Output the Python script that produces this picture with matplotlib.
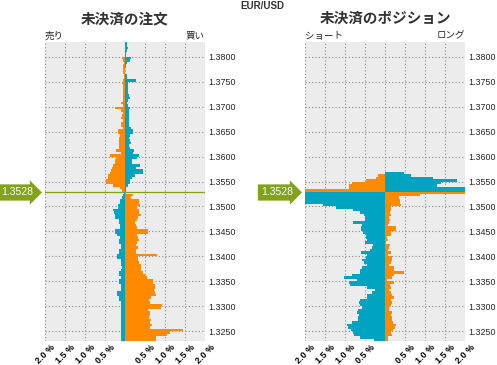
import numpy as np
import matplotlib
matplotlib.use('Agg')
import matplotlib.pyplot as plt
from matplotlib.transforms import blended_transform_factory, ScaledTranslation

plt.rcParams['font.family'] = ['Noto Sans CJK JP', 'DejaVu Sans']

# ---------------- data ----------------
pair = "EUR/USD"
current_price = 1.3528
bin_size = 0.0005
top_price = 1.3830
n_bins = 120

price_ticks = [1.3250, 1.3300, 1.3350, 1.3400, 1.3450, 1.3500, 1.3550,
               1.3600, 1.3650, 1.3700, 1.3750, 1.3800]
pct_ticks = [-2.0, -1.5, -1.0, -0.5, 0.0, 0.5, 1.0, 1.5, 2.0]
pct_labels = ["2.0 %", "1.5 %", "1.0 %", "0.5 %", "", "0.5 %", "1.0 %", "1.5 %", "2.0 %"]

# rows from top (1.3830) downward, each 0.0005 wide; values in %
orders_left = [
    0, 0, 0, 0, 0, 0, .07, .04, .02, .04,
    .05, .05, .05, .02, .03, .04, .07, .05, .06, .05,
    .05, .04, .05, .06, .09, .04, .24, .09, .06, .08,
    .10, .05, .09, .10, .04, .17, .17, .13, .14, .15,
    .15, .15, .15, .22, .09, .37, .23, .25, .25, .29,
    .32, .35, .37, .42, .42, .47, .47, .29, .12, .08,
    .03, .06, .08, .12, .12, .17, .17, .29, .27, .25,
    .24, .16, .14, .13, .13, .24, .24, .19, .13, .14,
    .14, .11, .11, .14, .14, .19, .19, .09, .09, .09,
    .08, .09, .16, .14, .09, .14, .14, .09, .09, .09,
    .19, .19, .14, .14, .11, .10, .09, .09, .09, .09,
    .09, .09, .10, .10, .11, .11, .10, .10, .11, .11]
orders_right = [
    .04, .04, .08, .06, .03, .03, .16, .12, .05, .02,
    .01, .01, .01, .04, .06, .28, .08, .07, .07, .08,
    .07, .09, .13, .08, .06, .07, .13, .09, .10, .10,
    .09, .09, .10, .11, .16, .19, .19, .12, .11, .12,
    .14, .11, .12, .23, .20, .35, .30, .18, .18, .38,
    .28, .46, .46, .25, .17, .12, .12, .08, .02, .02,
    .03, .19, .16, .36, .36, .38, .30, .36, .36, .41,
    .33, .30, .25, .28, .30, .58, .58, .31, .33, .34,
    .30, .28, .32, .27, .27, .81, .33, .33, .36, .39,
    .41, .41, .44, .51, .56, .71, .71, .74, .76, .73,
    .76, .77, .66, .60, .62, .92, .90, .58, .62, .62,
    .61, .64, .62, .68, .62, 1.46, 1.12, 1.06, .77, .77]
positions_left = [0] * 53 + [
    .18, .22, .48, .83, .90, .90, 2.0,
    2.0, 2.0, 2.0, 2.0, 2.0, 1.55, 1.23, .79, .63, .53,
    .51, .49, .80, .57, .60, .60, .55, .48, .47, .44,
    .51, .30, .32, .37, .60, .44, .48, .57, .52, .44,
    .58, .62, .63, .82, 1.02, .69, .90, .88, .44, .25,
    .32, .44, .44, .63, .65, .63, .57, .67, .71, .65,
    .67, .67, .82, .96, .92, .86, .80, .78, .63, .27]
positions_right = [0] * 52 + [
    .48, .64, 1.2, 1.79, 1.39, 1.29, 2.0, 2.0,
    2.0, .87, .35, .37, .37, .39, .14, .14, .12, .14,
    .09, .12, .09, .07, .28, .28, .14, .14, .06, .07,
    .02, .12, .10, .07, .14, .08, .18, .18, .15, .10,
    .22, .23, .47, .23, .18, .06, .23, .12, .14, .09,
    .14, .17, .22, .15, .18, .14, .10, .10, .18, .14,
    .17, .17, .21, .28, .25, .20, .14, .17, .08, .08]

# ---------------- style ----------------
ORANGE = '#ff8a00'
TEAL = '#00a3c0'
GREEN = '#80a31b'
BG = '#ececec'

W, H = 497, 365
fig = plt.figure(figsize=(W / 100, H / 100), dpi=100)
fig.patch.set_facecolor('white')

bin_bottom = top_price - bin_size * (np.arange(n_bins) + 1)
above = (bin_bottom + bin_size / 2) > current_price


def panel(x0, left_vals, right_vals):
    ax = fig.add_axes([x0 / W, 1 - 341 / H, 160 / W, 299 / H])
    ax.set_facecolor(BG)
    lc = np.where(above, ORANGE, TEAL)
    rc = np.where(above, TEAL, ORANGE)
    ax.barh(bin_bottom, -np.array(left_vals), height=bin_size, align='edge',
            color=lc, linewidth=0, zorder=2)
    ax.barh(bin_bottom, np.array(right_vals), height=bin_size, align='edge',
            color=rc, linewidth=0, zorder=2)
    ax.axhline(current_price, color=GREEN, lw=0.9, zorder=1.5)
    ax.set_xlim(-2, 2)
    ax.set_ylim(top_price - bin_size * n_bins, top_price)
    ax.set_axisbelow(True)
    ax.grid(True, color='#8c8c8c', linestyle=(0, (1, 2)), linewidth=0.8)
    for s in ax.spines.values():
        s.set_visible(False)
    ax.set_xticks(pct_ticks)
    ax.set_xticklabels(pct_labels, rotation=45, ha='right', va='top',
                       rotation_mode='anchor', fontsize=6.5, fontweight='bold',
                       family='Liberation Sans')
    ax.tick_params(axis='x', length=0, pad=1.5)
    shift = ScaledTranslation(0.05, 0, fig.dpi_scale_trans)
    for lab in ax.get_xticklabels():
        lab.set_transform(lab.get_transform() + shift)
    ax.yaxis.tick_right()
    ax.set_yticks(price_ticks)
    ax.set_yticklabels([f'{p:.4f}' for p in price_ticks], fontsize=6.4,
                       family='Liberation Sans', color='#222222')
    ax.tick_params(axis='y', length=0, pad=2.5)
    trans = blended_transform_factory(ax.transAxes, ax.transData)
    ax.text(-0.075, current_price, f'{current_price:.4f}', transform=trans,
            ha='right', va='center', fontsize=7.5, color='white',
            family='Liberation Sans',
            bbox=dict(boxstyle='rarrow,pad=0.3', fc=GREEN, ec='none'),
            clip_on=False, zorder=5)
    return ax


ax1 = panel(45, orders_left, orders_right)
ax2 = panel(305, positions_left, positions_right)

fig.text(125 / W, 1 - 18 / H, '未決済の注文', ha='center', va='center',
         fontsize=10.5, fontweight='bold', color='#333333')
fig.text(385 / W, 1 - 18 / H, '未決済のポジション', ha='center', va='center',
         fontsize=10.5, fontweight='bold', color='#333333')
fig.text(262 / W, 1 - 6 / H, pair, ha='center', va='center', fontsize=7,
         fontweight='bold', color='#333333', family='Liberation Sans')
fig.text(45 / W, 1 - 36 / H, '売り', ha='left', va='center', fontsize=6.8, color='#222222')
fig.text(205 / W, 1 - 36 / H, '買い', ha='right', va='center', fontsize=6.8, color='#222222')
fig.text(305 / W, 1 - 36 / H, 'ショート', ha='left', va='center', fontsize=6.8, color='#222222')
fig.text(465 / W, 1 - 36 / H, 'ロング', ha='right', va='center', fontsize=6.8, color='#222222')

fig.savefig('out.png', dpi=100)
